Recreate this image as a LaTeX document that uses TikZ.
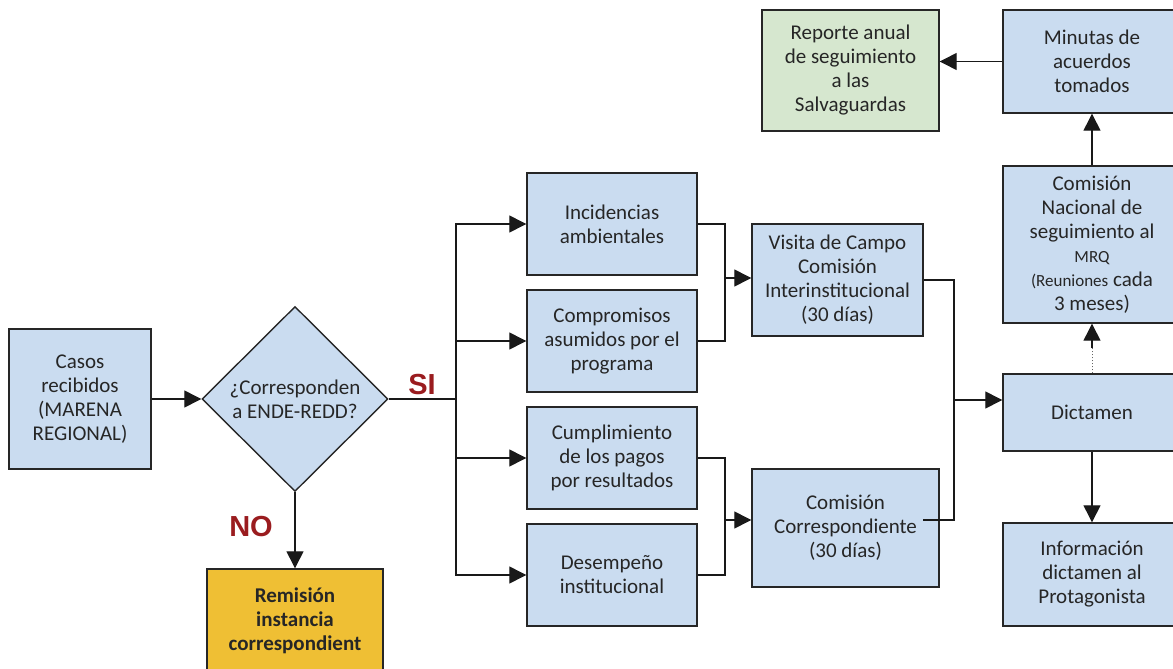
\documentclass[tikz,border=0pt]{standalone}
\usepackage{fontspec}
\setmainfont{Carlito}
\newfontfamily\arialf{Liberation Sans}
\usetikzlibrary{shapes.geometric,arrows.meta}
\definecolor{boxblue}{HTML}{CADCF0}
\definecolor{boxgreen}{HTML}{D6E7CF}
\definecolor{boxgold}{HTML}{EFBF34}
\definecolor{txt}{HTML}{262626}
\definecolor{lblred}{HTML}{9A1C1F}
\begin{document}
\begin{tikzpicture}[x=1pt,y=-1pt,
  box/.style={draw=black!85, line width=1.4pt, fill=boxblue, align=center, text=txt,
    font=\fontsize{21}{24}\selectfont, inner sep=2pt},
  conn/.style={line width=1.3pt, draw=black!90},
  arr/.style={conn, -{Triangle[length=17pt,width=17pt]}},
  lbl/.style={text=lblred, font=\arialf\bfseries\fontsize{29}{30}\selectfont}]
\useasboundingbox (0,0) rectangle (1173,669);

% left part
\node[box, minimum width=142pt, minimum height=140pt] (casos) at (80,399)
  {Casos\\recibidos\\(MARENA\\REGIONAL)};
\node[box, shape=diamond, minimum width=186pt, minimum height=185pt, inner sep=0pt] (dec) at (295,399)
  {¿Corresponden\\a ENDE-REDD?};
\node[box, fill=boxgold, minimum width=176pt, minimum height=104pt,
  font=\bfseries\fontsize{21}{24}\selectfont] (rem) at (295,621)
  {Remisión\\instancia\\correspondient};

\node[lbl] (si) at (422,385) {SI};
\node[lbl] (no) at (251,527) {NO};

% middle column
\node[box, minimum width=170pt, minimum height=102pt] (inc) at (612,224) {Incidencias\\ambientales};
\node[box, minimum width=170pt, minimum height=102pt] (comp) at (612,341) {Compromisos\\asumidos por el\\programa};
\node[box, minimum width=170pt, minimum height=102pt] (cump) at (612,458) {Cumplimiento\\de los pagos\\por resultados};
\node[box, minimum width=170pt, minimum height=102pt] (des) at (612,575) {Desempeño\\institucional};

\node[box, minimum width=171pt, minimum height=112pt] (vis) at (837.5,280)
  {Visita de Campo\\Comisión\\Interinstitucional\\(30 días)};
\node[box, minimum width=187pt, minimum height=118pt] (cc) at (845.5,528)
  {Comisión\\Correspondiente\\(30 días)};

% right column
\node[box, minimum width=178pt, minimum height=103pt] (min) at (1092,61.5) {Minutas de\\acuerdos\\tomados};
\node[box, fill=boxgreen, minimum width=177pt, minimum height=121pt] (rep) at (850.5,70.5)
  {Reporte anual\\de seguimiento\\a las\\Salvaguardas};
\node[box, minimum width=178pt, minimum height=157pt] (cn) at (1092,244.5)
  {Comisión\\Nacional de\\seguimiento al\\{\fontsize{17}{21}\selectfont MRQ}\\{\fontsize{17}{23}\selectfont (Reuniones} cada\\3 meses)};
\node[box, minimum width=178pt, minimum height=77pt] (dic) at (1092,412.5) {Dictamen};
\node[box, minimum width=178pt, minimum height=103pt] (inf) at (1092,574.5)
  {Información\\dictamen al\\Protagonista};

% coordinates
\coordinate (bus) at (456,399);
\coordinate (m1) at (725,278);
\coordinate (m2) at (725,520);
\coordinate (rb) at (954,400);
\coordinate (ccend) at (923,520);
\coordinate (dotend) at (1092,348);

% connectors
\draw[arr] (casos.east) -- (dec.west);
\draw[arr] (dec.south) -- (rem.north);
\draw[conn] (dec.east) -- (bus);
\draw[arr] (bus) |- (inc.west);
\draw[arr] (bus) |- (comp.west);
\draw[arr] (bus) |- (cump.west);
\draw[arr] (bus) |- (des.west);

\draw[conn] (inc.east) -| (m1) |- (comp.east);
\draw[arr] (m1) -- (m1 -| vis.west);
\draw[conn] (cump.east) -| (m2) |- (des.east);
\draw[arr] (m2) -- (m2 -| cc.west);

\draw[conn] (vis.east) -| (rb) |- (ccend);
\draw[arr] (rb) -- (rb -| dic.west);

\draw[arr] (dic.south) -- (inf.north);
\draw[line width=1pt, draw=black!60, dotted] (dic.north) -- (dotend);
\draw[arr] (dotend) -- (cn.south);
\draw[arr] (cn.north) -- (min.south);
\draw[arr] (min.west) -- (min.west -| rep.east);
\end{tikzpicture}
\end{document}
